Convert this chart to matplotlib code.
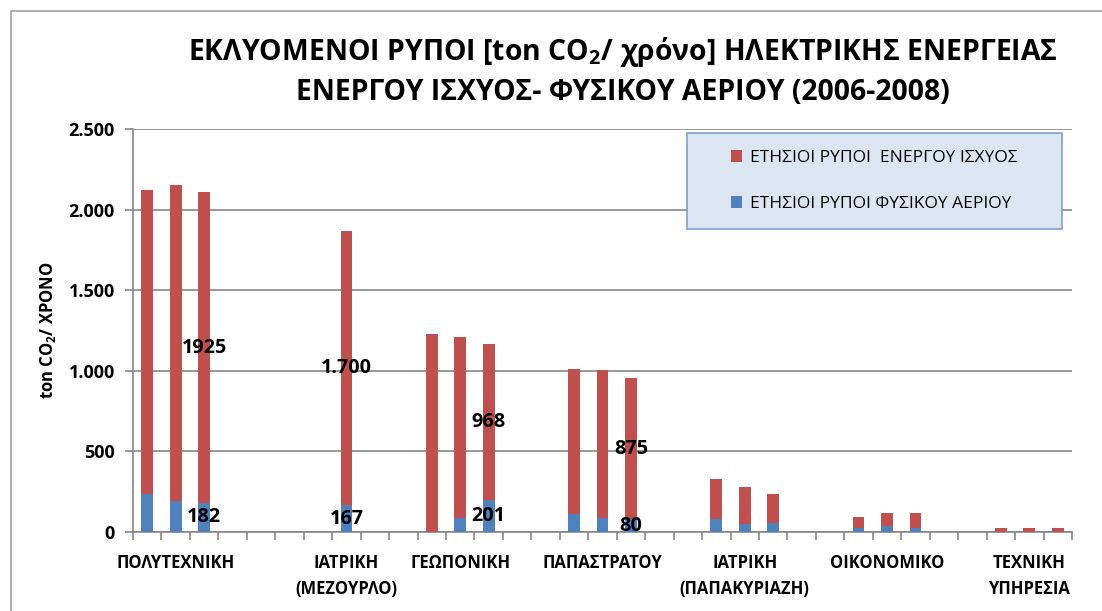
import numpy as np
import matplotlib
matplotlib.use('Agg')
import matplotlib.pyplot as plt
from matplotlib.patches import Rectangle
from matplotlib.ticker import FuncFormatter, MultipleLocator

# fonts: Greek capable sans, mathtext only for the CO2 subscript
plt.rcParams['font.family'] = ['Open Sans', 'DejaVu Sans']
plt.rcParams['mathtext.fontset'] = 'custom'
plt.rcParams['mathtext.rm'] = 'Open Sans'
plt.rcParams['mathtext.bf'] = 'Open Sans:bold'

# buildings (x axis categories), three years each
categories = ['ΠΟΛΥΤΕΧΝΙΚΗ', 'ΙΑΤΡΙΚΗ\n(ΜΕΖΟΥΡΛΟ)', 'ΓΕΩΠΟΝΙΚΗ', 'ΠΑΠΑΣΤΡΑΤΟΥ',
              'ΙΑΤΡΙΚΗ\n(ΠΑΠΑΚΥΡΙΑΖΗ)', 'ΟΙΚΟΝΟΜΙΚΟ', 'ΤΕΧΝΙΚΗ\nΥΠΗΡΕΣΙΑ']

# annual emissions, ton CO2 / year (2006, 2007, 2008)
power_emissions = [[1882, 1960, 1925],
                   [0, 0, 1700],
                   [1226, 1122, 968],
                   [901, 917, 875],
                   [251, 229, 182],
                   [70, 83, 93],
                   [25, 25, 25]]
gas_emissions = [[238, 190, 182],
                 [0, 0, 167],
                 [0, 87, 201],
                 [112, 87, 80],
                 [79, 48, 54],
                 [25, 35, 25],
                 [0, 0, 0]]

# value labels written on the 2008 bars: (group, power label, gas label)
value_labels = [(0, '1925', '182'),
                (1, '1.700', '167'),
                (2, '968', '201'),
                (3, '875', '80')]

series_names = ['ΕΤΗΣΙΟΙ ΡΥΠΟΙ  ΕΝΕΡΓΟΥ ΙΣΧΥΟΣ', 'ΕΤΗΣΙΟΙ ΡΥΠΟΙ ΦΥΣΙΚΟΥ ΑΕΡΙΟΥ']

red = '#C0504D'
blue = '#4F81BD'
grey = '#868686'

power = np.array(power_emissions, dtype=float)
gas = np.array(gas_emissions, dtype=float)
n_groups, n_years = power.shape
step = n_years + 2  # two empty slots between buildings

slots = np.array([[g * step + j for j in range(n_years)] for g in range(n_groups)], dtype=float)

W, H = 1102, 611
fig = plt.figure(figsize=(W / 100, H / 100), dpi=100)
ax = fig.add_axes([133 / W, 1 - 532 / H, (1072 - 133) / W, (532 - 129) / H])

# chart area frame
fig.patches.append(Rectangle((11 / W, -0.1), 1.2, 1 - 11 / H + 0.1,
                             transform=fig.transFigure, fill=False,
                             edgecolor='#A0A0A0', linewidth=1.2, zorder=0))

width = 0.41
ax.bar(slots.ravel(), gas.ravel(), width, color=blue, zorder=3,
       label=series_names[1])
ax.bar(slots.ravel(), power.ravel(), width, bottom=gas.ravel(), color=red,
       zorder=3, label=series_names[0])

for g, p_lab, g_lab in value_labels:
    x = slots[g, -1]
    ax.text(x, gas[g, -1] + power[g, -1] / 2, p_lab, ha='center', va='center',
            fontsize=14.3, fontweight='bold', zorder=4)
    ax.text(x, gas[g, -1] / 2, g_lab, ha='center', va='center',
            fontsize=14.3, fontweight='bold', zorder=4)

# axes
ax.set_xlim(-0.5, slots.max() + 0.5)
ax.set_ylim(0, 2500)
ax.yaxis.set_major_locator(MultipleLocator(500))
ax.yaxis.set_major_formatter(FuncFormatter(lambda v, p: f'{int(v):,}'.replace(',', '.')))
ax.grid(axis='y', color=grey, linewidth=1.2, zorder=0)

# building label sits under the bars that carry data
label_pos = [slots[g][(power[g] + gas[g]) > 0].mean() for g in range(n_groups)]
ax.set_xticks(label_pos)
ax.set_xticklabels(categories, fontsize=12, fontweight='bold', linespacing=1.55)
ax.set_xticks(np.arange(-0.5, slots.max() + 1), minor=True)
ax.tick_params(axis='x', which='major', length=0, pad=16)
ax.tick_params(axis='x', which='minor', length=6, color=grey, width=1.2, direction='out')
ax.tick_params(axis='y', length=6, color=grey, width=1.2, pad=7, labelsize=13)
for lab in ax.get_yticklabels():
    lab.set_fontweight('bold')

for side in ['top', 'right']:
    ax.spines[side].set_visible(False)
for side in ['left', 'bottom']:
    ax.spines[side].set_color(grey)
    ax.spines[side].set_linewidth(1.2)

ax.set_ylabel('ton CO$_\\mathbf{2}$/ ΧΡΟΝΟ', fontsize=12, fontweight='bold', labelpad=8)

fig.text(0.565, 1 - 71 / H,
         'ΕΚΛΥΟΜΕΝΟΙ ΡΥΠΟΙ [ton CO$_\\mathbf{2}$/ χρόνο] ΗΛΕΚΤΡΙΚΗΣ ΕΝΕΡΓΕΙΑΣ\n'
         'ΕΝΕΡΓΟΥ ΙΣΧΥΟΣ- ΦΥΣΙΚΟΥ ΑΕΡΙΟΥ (2006-2008)',
         ha='center', va='center', fontsize=20.4, fontweight='bold', linespacing=1.45)

# legend box, power first then gas
fig.patches.append(Rectangle((687 / W, 1 - 229 / H), 375 / W, 96 / H,
                             transform=fig.transFigure, facecolor='#DCE6F2',
                             edgecolor='#7F9FCF', linewidth=1.2, zorder=4))
handles, labels = ax.get_legend_handles_labels()
leg = fig.legend(handles[::-1], labels[::-1], loc='upper left',
                 bbox_to_anchor=(731 / W, 1 - 150 / H),
                 fontsize=12.5, frameon=False, handlelength=0.65,
                 handleheight=0.65, handletextpad=0.45, labelspacing=1.75,
                 borderpad=0, borderaxespad=0)
leg.set_zorder(5)

fig.savefig('out.png', dpi=100)
